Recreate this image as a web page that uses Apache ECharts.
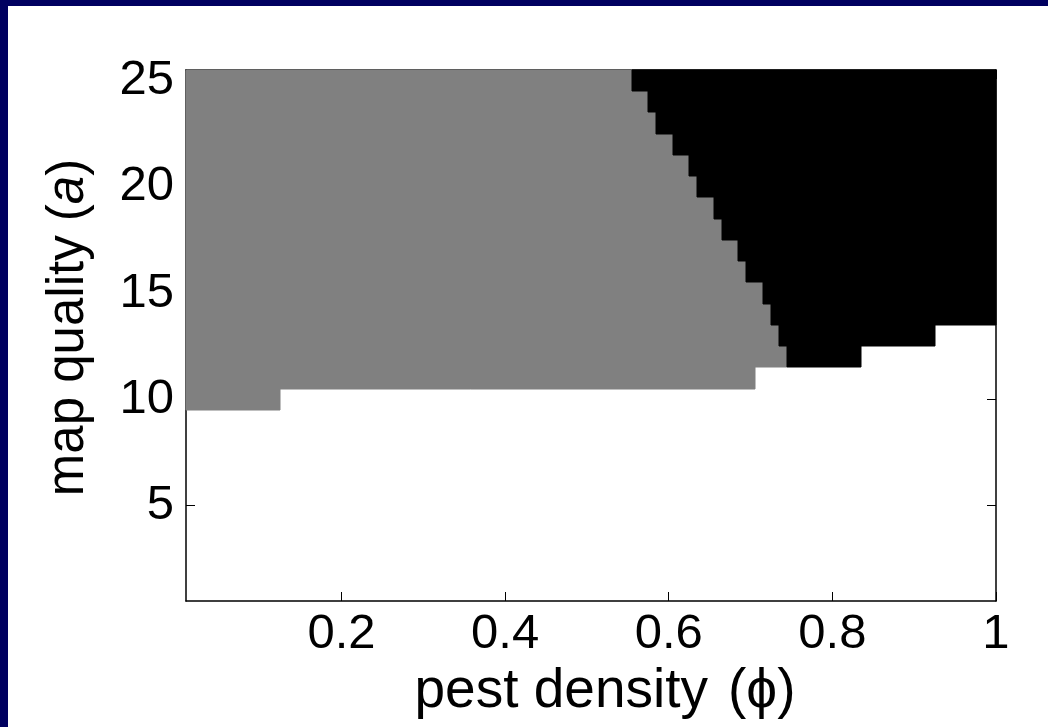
<!DOCTYPE html>
<html>
<head>
<meta charset="utf-8">
<script src="https://cdn.jsdelivr.net/npm/echarts@6/dist/echarts.min.js"></script>
<style>
html,body{margin:0;padding:0;background:#000060;width:1048px;height:727px;overflow:hidden;}
#chart{position:absolute;left:8px;top:6px;width:1040px;height:721px;background:#ffffff;}
</style>
</head>
<body>
<div id="chart"></div>
<script>
// map quality rows (a) that contain shaded cells
const aRows = [10, 11, 12, 13, 14, 15, 16, 17, 18, 19, 20, 21, 22, 23, 24, 25];
// last pest density (phi) column that is gray, per row
const grayLast = [0.12, 0.70, 0.74, 0.73, 0.72, 0.71, 0.69, 0.68, 0.66, 0.65, 0.63, 0.62, 0.60, 0.58, 0.57, 0.55];
// last phi column that is black, per row (null: no black cells)
const blackLast = [null, null, 0.83, 0.92, 1, 1, 1, 1, 1, 1, 1, 1, 1, 1, 1, 1];
const phiStep = 0.01;
const xTicks = [0.2, 0.4, 0.6, 0.8, 1];
const yTicks = [5, 10, 15, 20, 25];
const xTickLabels = ['0.2', '0.4', '0.6', '0.8', '1'];

const cells = [];
aRows.forEach((a, i) => {
  const x0 = phiStep / 2;
  const g1 = grayLast[i] + phiStep / 2;
  cells.push([x0, g1, a, 0]);
  if (blackLast[i] !== null) {
    cells.push([g1, blackLast[i] + phiStep / 2, a, 1]);
  }
});
const colors = ['#808080', '#000000'];

const chart = echarts.init(document.getElementById('chart'), null, {renderer: 'canvas'});
const font = 'Liberation Sans, Arial, Helvetica, sans-serif';
const tickCommon = {show: true, inside: true, length: 9, lineStyle: {color: '#000', width: 1}};
const lineCommon = {show: true, onZero: false, lineStyle: {color: '#000', width: 1.5}};

chart.setOption({
  animation: false,
  backgroundColor: '#ffffff',
  grid: {left: 178, right: 52, top: 64, bottom: 126, containLabel: false},
  xAxis: [{
    type: 'value', min: 0.01, max: 1, position: 'bottom',
    axisLine: lineCommon,
    axisTick: Object.assign({customValues: xTicks}, tickCommon),
    axisLabel: {customValues: xTicks, margin: 9, fontSize: 49, color: '#000', fontFamily: font,
      formatter: v => xTickLabels[xTicks.findIndex(t => Math.abs(t - v) < 1e-9)]},
    splitLine: {show: false},
    name: 'pest density{sp| }(ϕ)', nameLocation: 'middle', nameGap: 56,
    nameTextStyle: {fontSize: 55, color: '#000', fontFamily: font, padding: [0, 0, 0, 28],
      rich: {sp: {width: 20, fontSize: 55, fontFamily: font}}}
  }, {
    type: 'value', min: 0.01, max: 1, position: 'top',
    axisLine: lineCommon,
    axisTick: Object.assign({customValues: xTicks}, tickCommon),
    axisLabel: {show: false}, splitLine: {show: false}
  }],
  yAxis: [{
    type: 'value', min: 0.5, max: 25.5, position: 'left',
    axisLine: lineCommon,
    axisTick: Object.assign({customValues: yTicks}, tickCommon),
    axisLabel: {customValues: yTicks, margin: 12, fontSize: 49, color: '#000', fontFamily: font},
    splitLine: {show: false},
    name: 'map quality ({i|a})', nameLocation: 'middle', nameGap: 92, nameRotate: 90,
    nameTextStyle: {fontSize: 51, color: '#000', fontFamily: font, padding: [0, 0, 0, 16],
      rich: {i: {fontSize: 51, fontStyle: 'italic', color: '#000', fontFamily: font}}}
  }, {
    type: 'value', min: 0.5, max: 25.5, position: 'right',
    axisLine: lineCommon,
    axisTick: Object.assign({customValues: yTicks}, tickCommon),
    axisLabel: {show: false}, splitLine: {show: false}
  }],
  series: [{
    type: 'custom',
    xAxisIndex: 0, yAxisIndex: 0,
    data: cells,
    z: 1,
    renderItem: function (params, api) {
      const p0 = api.coord([api.value(0), api.value(2) + 0.5]);
      const p1 = api.coord([api.value(1), api.value(2) - 0.5]);
      const x0 = Math.round(p0[0]), y0 = Math.round(p0[1]);
      const x1 = Math.round(p1[0]), y1 = Math.round(p1[1]);
      const rect = echarts.graphic.clipRectByRect(
        {x: x0, y: y0, width: x1 - x0, height: y1 - y0},
        {x: params.coordSys.x, y: params.coordSys.y, width: params.coordSys.width, height: params.coordSys.height}
      );
      if (!rect) return;
      return {type: 'rect', shape: rect,
        style: {fill: colors[api.value(3)], stroke: colors[api.value(3)], lineWidth: 1}};
    }
  }]
});
</script>
</body>
</html>
